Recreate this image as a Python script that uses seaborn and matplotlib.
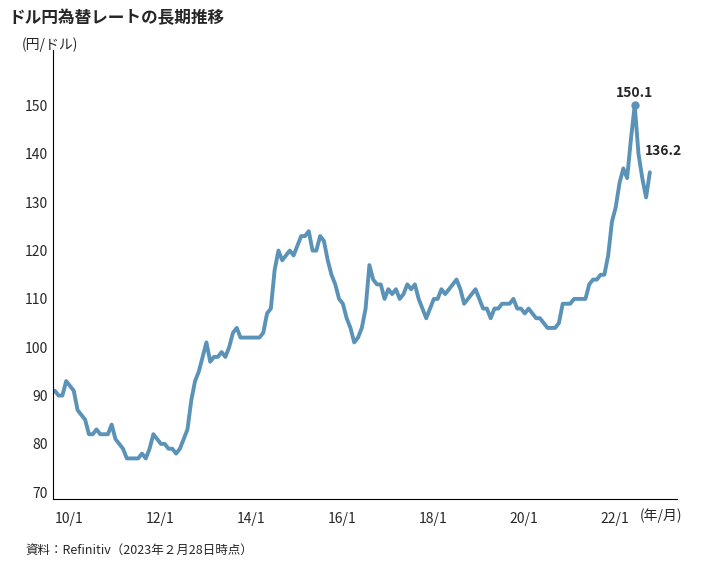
import numpy as np
import pandas as pd
import matplotlib
matplotlib.use("Agg")
import matplotlib.pyplot as plt
import seaborn as sns

# monthly USD/JPY, 2010/1 - 2023/2
rates = [
    91, 90, 90, 93, 92, 91, 87, 86, 85, 82, 82, 83,
    82, 82, 82, 84, 81, 80, 79, 77, 77, 77, 77, 78,
    77, 79, 82, 81, 80, 80, 79, 79, 78, 79, 81, 83,
    89, 93, 95, 98, 101, 97, 98, 98, 99, 98, 100, 103,
    104, 102, 102, 102, 102, 102, 102, 103, 107, 108, 116, 120,
    118, 119, 120, 119, 121, 123, 123, 124, 120, 120, 123, 122,
    118, 115, 113, 110, 109, 106, 104, 101, 102, 104, 108, 117,
    114, 113, 113, 110, 112, 111, 112, 110, 111, 113, 112, 113,
    110, 108, 106, 108, 110, 110, 112, 111, 112, 113, 114, 112,
    109, 110, 111, 112, 110, 108, 108, 106, 108, 108, 109, 109,
    109, 110, 108, 108, 107, 108, 107, 106, 106, 105, 104, 104,
    104, 105, 109, 109, 109, 110, 110, 110, 110, 113, 114, 114,
    115, 115, 119, 126, 129, 134, 137, 135, 143, 150.1, 140, 135,
    131, 136.2,
]
years = [2010 + i / 12 for i in range(len(rates))]
df = pd.DataFrame({"year": years, "rate": rates})

tick_years = [2010, 2012, 2014, 2016, 2018, 2020, 2022]
tick_labels = ["10/1", "12/1", "14/1", "16/1", "18/1", "20/1", "22/1"]
peak_label, last_label = "150.1", "136.2"

sns.set_style("white")
plt.rcParams['font.family'] = ['Noto Sans CJK JP', 'DejaVu Sans']

fig = plt.figure(figsize=(7.24, 5.8), dpi=100)
ax = fig.add_axes([53 / 724, 81 / 580, 624 / 724, 449 / 580])
sns.lineplot(data=df, x="year", y="rate", ax=ax, color="#5b93b8", linewidth=2.8)

pk = df["rate"].idxmax()
ax.plot(df["year"][pk], df["rate"][pk], "o", color="#5b93b8", ms=5)
ax.text(df["year"][pk], df["rate"][pk] + 1, peak_label, ha="center", va="bottom",
        fontsize=10, fontweight="bold")
ax.text(df["year"].iloc[-1] - 0.1, df["rate"].iloc[-1] + 3, last_label, ha="left",
        va="bottom", fontsize=10, fontweight="bold")

ax.set_xlim(2009.96, 2023.68)
ax.set_ylim(68.6, 161.5)
ax.set_yticks(range(70, 151, 10))
ax.set_xticks(tick_years)
ax.set_xticklabels(tick_labels, ha="left")
ax.set_xticks([2010 + i / 12 for i in range(164)], minor=True)
ax.tick_params(axis="x", which="major", direction="out", length=5, pad=4, labelsize=10)
ax.tick_params(axis="x", which="minor", direction="out", length=2)
ax.tick_params(axis="y", length=0, labelsize=10)
ax.set_xlabel("")
ax.set_ylabel("")
for s in ["top", "right"]:
    ax.spines[s].set_visible(False)
for s in ["left", "bottom"]:
    ax.spines[s].set_color("black")
    ax.spines[s].set_linewidth(0.8)

fig.text(8 / 724, 1 - 18 / 580, "ドル円為替レートの長期推移", fontsize=12, fontweight="bold", va="center")
fig.text(22 / 724, 1 - 45 / 580, "(円/ドル)", fontsize=10, va="center")
fig.text(640 / 724, 1 - 516 / 580, "(年/月)", fontsize=10, va="center")
fig.text(25 / 724, 1 - 550 / 580, "資料：Refinitiv（2023年２月28日時点）", fontsize=9, va="center")

fig.savefig("out.png", dpi=100)
